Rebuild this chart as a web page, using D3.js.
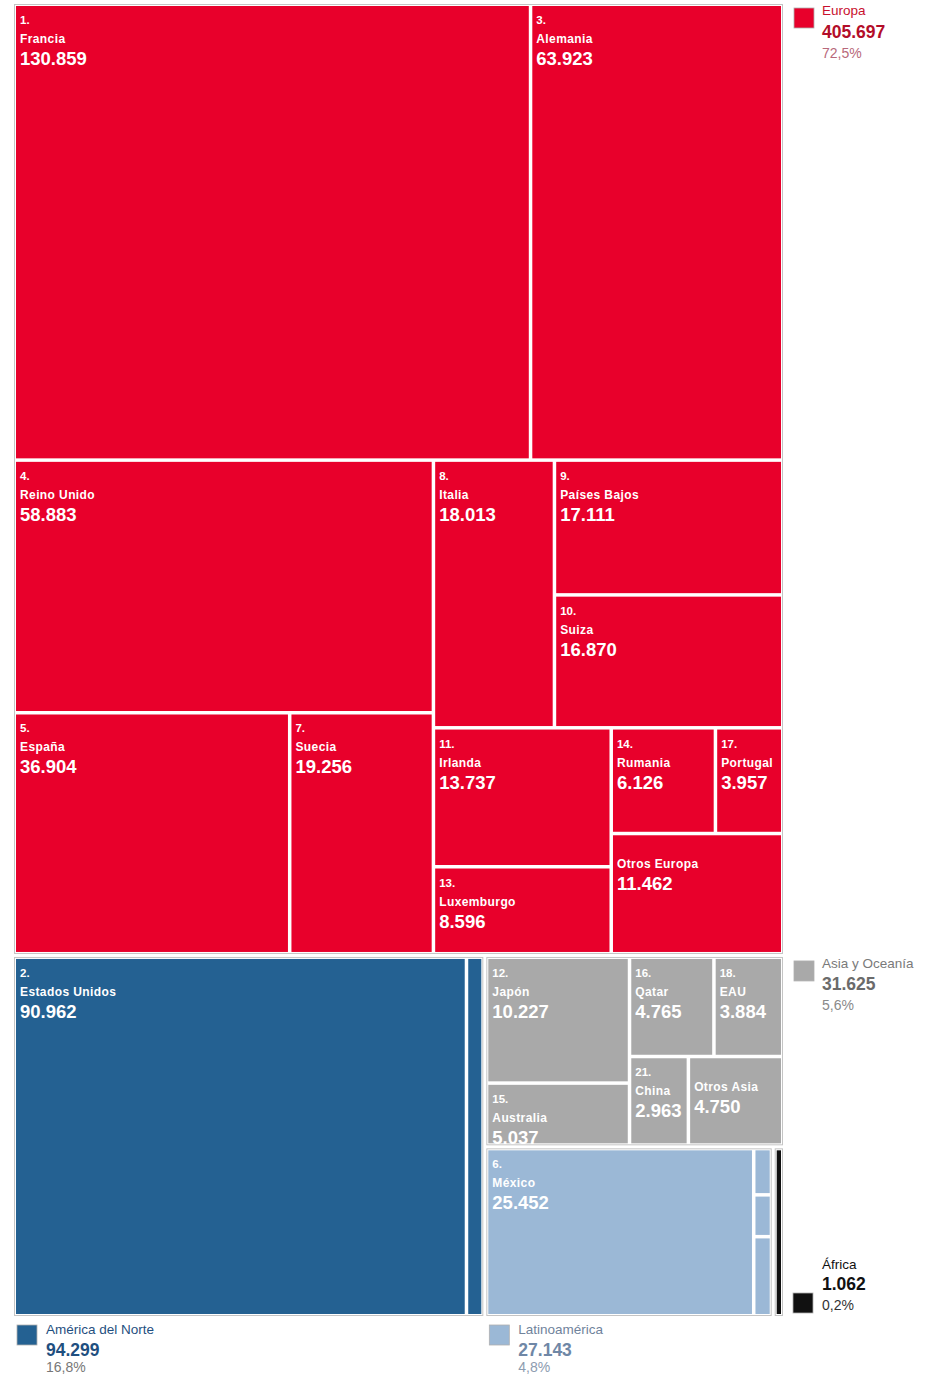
<!DOCTYPE html>
<html><head><meta charset="utf-8">
<script src="https://cdn.jsdelivr.net/npm/d3@7"></script>
<style>
body{margin:0;background:#fff;}
text{font-family:"Liberation Sans",Arial,Helvetica,sans-serif;}
</style>
</head><body>
<svg id="chart" width="933" height="1375"></svg>
<script>
// ---- DATA ----
const regionNames  = ["Europa", "América del Norte", "Asia y Oceanía", "Latinoamérica", "África"];
const regionTotals = ["405.697", "94.299", "31.625", "27.143", "1.062"];
const regionShares = ["72,5%", "16,8%", "5,6%", "4,8%", "0,2%"];

const europaNames  = ["Francia","Alemania","Reino Unido","España","Suecia","Italia","Países Bajos","Suiza","Irlanda","Luxemburgo","Rumania","Portugal","Otros Europa"];
const europaRanks  = [1,3,4,5,7,8,9,10,11,13,14,17,null];
const europaValues = [130.859,63.923,58.883,36.904,19.256,18.013,17.111,16.870,13.737,8.596,6.126,3.957,11.462];

const norteNames  = ["Estados Unidos","Canadá"];
const norteRanks  = [2,null];
const norteValues = [90.962,3.337];

const asiaNames  = ["Japón","Australia","Qatar","EAU","China","Otros Asia"];
const asiaRanks  = [12,15,16,18,21,null];
const asiaValues = [10.227,5.037,4.765,3.884,2.963,4.750];

const latamNames  = ["México","Otros Latinoamérica (a)","Otros Latinoamérica (b)","Otros Latinoamérica (c)"];
const latamRanks  = [6,null,null,null];
const latamValues = [25.452,0.468,0.423,0.800];

const africaNames  = ["África"];
const africaRanks  = [null];
const africaValues = [1.062];

// ---- STYLE ----
const fills = ["#e8002b", "#246192", "#a9a9a9", "#9bb8d6", "#111111"];
const legendColors = [
  {name:"#c8102e", value:"#b30d29", pct:"#b8687a"},
  {name:"#1f4f80", value:"#1f4f80", pct:"#777777"},
  {name:"#7a7a7a", value:"#6b6b6b", pct:"#8a8a8a"},
  {name:"#70839c", value:"#6f87a6", pct:"#8d9cb0"},
  {name:"#111111", value:"#111111", pct:"#333333"}
];

const groups = [
  [europaNames, europaRanks, europaValues],
  [norteNames, norteRanks, norteValues],
  [asiaNames, asiaRanks, asiaValues],
  [latamNames, latamRanks, latamValues],
  [africaNames, africaRanks, africaValues]
];

const tree = {
  name: "root",
  children: regionNames.map((r, i) => ({
    name: r, idx: i,
    children: groups[i][0].map((n, j) => ({name: n, rank: groups[i][1][j], value: groups[i][2][j], idx: i}))
  }))
};

const X0 = 15, Y0 = 5, W = 767, H = 1310;

const root = d3.hierarchy(tree).sum(d => d.children ? 0 : d.value);
d3.treemap()
  .tile(d3.treemapBinary)
  .size([W, H])
  .paddingInner(d => d.depth === 0 ? 5 : 3.5)
  .paddingOuter(d => d.depth === 1 ? 1 : 0)
  (root);

const showVal = v => v.toFixed(3);

const svg = d3.select("#chart");
const g = svg.append("g").attr("transform", `translate(${X0},${Y0})`);

// region outlines
g.selectAll("rect.region").data(root.children).join("rect")
  .attr("class", "region")
  .attr("x", d => d.x0 - 0.5).attr("y", d => d.y0 - 0.5)
  .attr("width", d => d.x1 - d.x0 + 1).attr("height", d => d.y1 - d.y0 + 1)
  .attr("fill", "#fff").attr("stroke", "#c4c4c4").attr("stroke-width", 1);

const leaves = g.selectAll("g.leaf").data(root.leaves()).join("g")
  .attr("class", "leaf")
  .attr("transform", d => `translate(${d.x0},${d.y0})`);

leaves.append("rect")
  .attr("width", d => d.x1 - d.x0).attr("height", d => d.y1 - d.y0)
  .attr("fill", d => fills[d.data.idx]);

const labeled = leaves.filter(d => (d.x1 - d.x0) > 40);
labeled.filter(d => d.data.rank != null).append("text")
  .attr("x", 4).attr("y", 18)
  .attr("fill", "#fff").attr("font-size", 11.5).attr("font-weight", "bold")
  .text(d => d.data.rank + ".");
labeled.append("text")
  .attr("x", 4).attr("y", d => d.data.rank != null ? 37 : 33)
  .attr("fill", "#fff").attr("font-size", 12).attr("font-weight", "bold")
  .attr("letter-spacing", 0.4)
  .text(d => d.data.name);
labeled.append("text")
  .attr("x", 4).attr("y", d => d.data.rank != null ? 59 : 55)
  .attr("fill", "#fff").attr("font-size", 18.5).attr("font-weight", "bold")
  .text(d => showVal(d.data.value));

// ---- LEGENDS ----
// placement relative to region rectangles: right-top, below-left, right-bottom
const legendPlace = ["rightTop", "below", "rightTop", "below", "rightBottom"];
const legendOffsets = {
  rightTop:    {sx: 12, sy: 3, tx: 40, ny: 10, vy: 32.5, py: 52.5},
  below:       {sx: 2, sy: 10, tx: 31, ny: 19, vy: 41, py: 57},
  rightBottom: {sx: 11, sy: -22, tx: 40, ny: -46, vy: -25, py: -5}
};
root.children.forEach(r => {
  const i = r.data.idx, o = legendOffsets[legendPlace[i]];
  const bx = X0 + (legendPlace[i] === "below" ? r.x0 : r.x1);
  const by = Y0 + (legendPlace[i] === "rightTop" ? r.y0 : r.y1);
  const lg = svg.append("g").attr("transform", `translate(${bx},${by})`);
  lg.append("rect").attr("x", o.sx).attr("y", o.sy).attr("width", 20).attr("height", 20)
    .attr("fill", fills[i]).attr("stroke", "#b0b0b0").attr("stroke-width", 0.8);
  const c = legendColors[i];
  lg.append("text").attr("x", o.tx).attr("y", o.ny).attr("font-size", 13.5)
    .attr("fill", c.name).text(regionNames[i]);
  lg.append("text").attr("x", o.tx).attr("y", o.vy).attr("font-size", 17.5).attr("font-weight", "bold")
    .attr("fill", c.value).text(regionTotals[i]);
  lg.append("text").attr("x", o.tx).attr("y", o.py).attr("font-size", 14)
    .attr("fill", c.pct).text(regionShares[i]);
});
</script>
</body></html>
